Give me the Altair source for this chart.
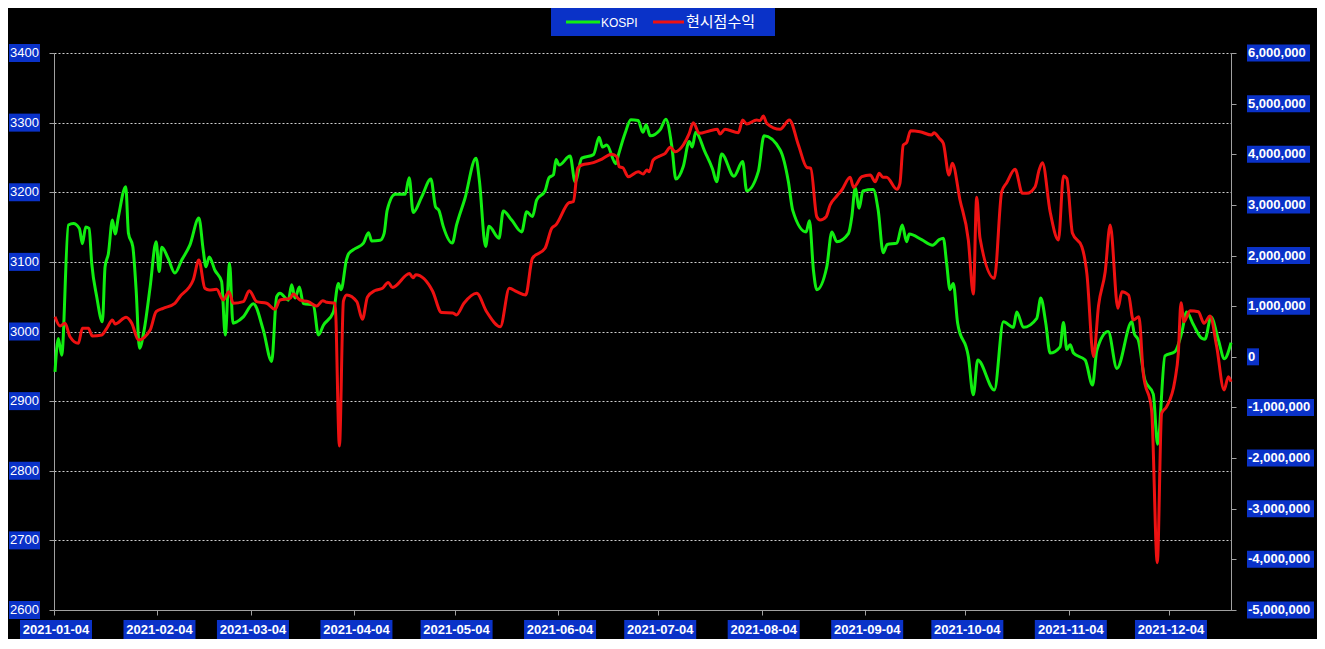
import altair as alt
import pandas as pd

# ---------------- data ----------------
# day offsets counted from 2021-01-04
kospi_day = [0.3, 1.3, 2.3, 4.3, 5.8, 7.6, 8.5, 9.5, 10.5, 11.3,
             12.8, 14.5, 15.3, 16.3, 17.5, 18.3, 19.3, 21.5, 22.3, 23.6,
             24.6, 25.6, 27.0, 28.8, 30.6, 31.5, 32.3, 34.2, 36.2, 38.3,
             40.7, 43.4, 44.7, 45.5, 46.5, 48.2, 50.2, 51.3, 52.6, 53.6,
             54.8, 56.7, 59.7, 62.7, 65.2, 66.7, 67.7, 70.2, 71.2, 72.2,
             73.5, 74.7, 77.7, 79.2, 80.7, 83.7, 85.2, 86.0, 87.6, 88.3,
             90.2, 92.7, 94.2, 95.2, 97.7, 98.9, 99.8, 102.2, 105.2, 106.4,
             107.6, 110.2, 112.9, 114.3, 115.3, 116.6, 119.3, 120.6, 123.1, 126.4,
             127.4, 129.3, 130.3, 133.3, 134.6, 137.1, 140.1, 141.6, 143.3, 144.6,
             147.1, 148.3, 149.6, 150.4, 151.3, 154.6, 156.1, 158.1, 161.6, 163.3,
             164.3, 165.6, 168.3, 169.1, 171.1, 172.8, 175.0, 176.4, 177.4, 178.6,
             181.6, 183.3, 185.1, 186.3, 188.5, 190.3, 191.2, 192.2, 195.0, 197.3,
             198.5, 200.0, 203.7, 206.3, 207.5, 211.0, 212.7, 217.5, 220.0, 221.3,
             225.3, 226.3, 227.5, 228.5, 231.5, 233.0, 234.5, 238.0, 239.0, 240.0,
             241.2, 242.3, 245.4, 246.9, 248.4, 249.6, 252.5, 254.1, 255.4, 256.2,
             259.9, 263.2, 265.2, 266.4, 267.4, 268.4, 269.4, 270.7, 273.9, 275.4,
             276.7, 281.7, 284.4, 287.4, 288.4, 290.4, 294.4, 295.6, 297.1, 298.4,
             301.4, 302.4, 303.4, 304.4, 305.4, 308.9, 311.1, 312.4, 315.8, 318.4,
             322.9, 323.6, 324.8, 326.8, 329.3, 330.6, 332.8, 335.8, 337.8, 339.3,
             341.3, 343.9, 344.8, 346.6, 348.8, 350.6, 352.6]
kospi_val = [2942, 2990, 2966, 3153, 3155, 3148, 3126, 3150, 3148, 3098,
             3050, 3014, 3093, 3112, 3160, 3140, 3165, 3208, 3141, 3122,
             3060, 2976, 3002, 3064, 3129, 3086, 3121, 3105, 3084, 3103,
             3124, 3163, 3117, 3093, 3107, 3088, 3072, 2995, 3098, 3012,
             3014, 3021, 3040, 3002, 2957, 3050, 3055, 3045, 3067, 3048,
             3064, 3040, 3038, 2995, 3009, 3028, 3069, 3060, 3103, 3112,
             3119, 3127, 3142, 3130, 3131, 3141, 3174, 3197, 3197, 3221,
             3171, 3194, 3219, 3179, 3174, 3151, 3127, 3153, 3191, 3249,
             3218, 3122, 3151, 3134, 3173, 3160, 3143, 3172, 3165, 3189,
             3202, 3221, 3225, 3247, 3239, 3252, 3215, 3249, 3254, 3279,
             3265, 3268, 3241, 3254, 3285, 3304, 3303, 3286, 3297, 3281,
             3290, 3305, 3265, 3219, 3237, 3273, 3265, 3286, 3258, 3233,
             3215, 3255, 3223, 3244, 3202, 3230, 3281, 3261, 3215, 3174,
             3143, 3159, 3088, 3060, 3093, 3143, 3129, 3141, 3165, 3206,
             3177, 3202, 3204, 3174, 3113, 3125, 3127, 3153, 3129, 3140,
             3132, 3124, 3132, 3134, 3098, 3060, 3069, 3012, 2964, 2909,
             2959, 2916, 3014, 3006, 3028, 3006, 3019, 3048, 3012, 2969,
             2978, 3013, 2974, 2981, 2969, 2959, 2923, 2973, 3000, 2947,
             3014, 2997, 2988, 2930, 2910, 2838, 2965, 2971, 2998, 3028,
             3010, 2990, 2989, 3021, 2988, 2961, 2984]

profit_day = [0.3, 1.8, 3.3, 4.8, 7.3, 8.5, 10.3, 11.5, 14.3, 15.8,
              17.5, 18.3, 21.6, 23.3, 25.3, 28.8, 30.6, 32.7, 36.2, 37.7,
              41.7, 43.4, 45.2, 46.5, 48.7, 50.7, 52.4, 53.7, 56.7, 58.5,
              60.7, 63.7, 66.2, 67.7, 70.7, 71.7, 73.7, 76.2, 78.7, 80.5,
              81.7, 84.2, 85.5, 86.7, 87.7, 90.7, 92.4, 93.9, 96.2, 98.4,
              100.1, 101.4, 106.5, 107.5, 108.4, 113.4, 116.1, 119.5, 120.5, 122.8,
              126.6, 129.6, 133.7, 136.4, 138.6, 141.3, 143.3, 147.1, 149.1, 150.3,
              154.3, 155.6, 156.9, 158.1, 161.6, 163.6, 167.1, 168.6, 169.3, 170.4,
              172.0, 175.0, 176.5, 177.6, 178.3, 179.5, 181.5, 183.1, 184.6, 186.1,
              188.5, 190.3, 191.5, 193.3, 196.5, 198.7, 199.5, 201.0, 205.0, 206.3,
              207.5, 210.5, 211.5, 212.5, 213.5, 217.5, 220.3, 223.0, 225.5, 226.7,
              228.5, 229.5, 231.3, 232.5, 234.5, 236.0, 238.5, 239.5, 242.0, 244.5,
              246.0, 247.2, 248.3, 249.4, 252.5, 253.4, 254.4, 255.4, 256.6, 259.4,
              262.9, 263.6, 265.2, 266.4, 268.1, 269.1, 271.4, 273.9, 275.4, 276.4,
              277.4, 281.7, 283.9, 285.4, 287.9, 290.1, 291.4, 293.9, 295.1, 296.1,
              298.4, 300.9, 302.4, 303.4, 305.1, 307.9, 309.4, 311.4, 312.9, 314.9,
              316.4, 318.7, 319.9, 321.9, 323.3, 325.0, 326.3, 328.8, 330.5, 331.8,
              333.3, 335.8, 336.8, 337.6, 338.5, 340.3, 342.8, 344.5, 346.3, 348.3,
              350.5, 351.8, 352.6]
profit_val = [792000, 609000, 662000, 397000, 267000, 563000, 563000, 411000, 431000, 563000,
              727000, 648000, 780000, 662000, 332000, 530000, 891000, 958000, 1057000, 1187000,
              1517000, 1912000, 1353000, 1320000, 1333000, 1122000, 1287000, 1057000, 1089000, 1306000,
              1089000, 1057000, 938000, 1122000, 1155000, 1240000, 1122000, 1089000, 1004000, 1109000,
              1076000, 1057000, -1761000, 1100000, 1221000, 1089000, 741000, 1180000, 1310000, 1353000,
              1470000, 1370000, 1645000, 1560000, 1620000, 1300000, 873000, 867000, 826000, 1057000,
              1254000, 891000, 595000, 1353000, 1287000, 1221000, 1945000, 2143000, 2538000, 2603000,
              3044000, 3063000, 3723000, 3788000, 3834000, 3887000, 4000000, 3952000, 3755000, 3735000,
              3557000, 3656000, 3610000, 3689000, 3656000, 3887000, 3966000, 4019000, 4138000, 4051000,
              4183000, 4414000, 4624000, 4414000, 4466000, 4493000, 4400000, 4493000, 4427000, 4677000,
              4598000, 4677000, 4664000, 4756000, 4611000, 4493000, 4677000, 4183000, 3742000, 3722000,
              2767000, 2702000, 2767000, 2998000, 3176000, 3294000, 3545000, 3348000, 3557000, 3591000,
              3458000, 3624000, 3545000, 3545000, 3308000, 3427000, 4183000, 4229000, 4466000, 4446000,
              4381000, 4427000, 4315000, 4217000, 3591000, 3822000, 3097000, 2307000, 1240000, 3150000,
              2340000, 1550000, 3261000, 3439000, 3703000, 3229000, 3229000, 3360000, 3689000, 3834000,
              2866000, 2307000, 3571000, 3525000, 2439000, 2175000, 1649000, 3000, 1010000, 1681000,
              2603000, 958000, 1287000, 1221000, 727000, 792000, -326000, -1050000, -4066000, -1116000,
              -985000, -458000, 70000, 1069000, 694000, 911000, 891000, 662000, 806000, 200000,
              -655000, -393000, -492000]

x_tick_labels = ["2021-01-04", "2021-02-04", "2021-03-04", "2021-04-04", "2021-05-04", "2021-06-04",
                 "2021-07-04", "2021-08-04", "2021-09-04", "2021-10-04", "2021-11-04", "2021-12-04"]
left_tick_values = [2600, 2700, 2800, 2900, 3000, 3100, 3200, 3300, 3400]
left_tick_labels = ["2600", "2700", "2800", "2900", "3000", "3100", "3200", "3300", "3400"]
right_tick_values = [-5000000, -4000000, -3000000, -2000000, -1000000, 0,
                     1000000, 2000000, 3000000, 4000000, 5000000, 6000000]
right_tick_labels = ["-5,000,000", "-4,000,000", "-3,000,000", "-2,000,000", "-1,000,000", "0",
                     "1,000,000", "2,000,000", "3,000,000", "4,000,000", "5,000,000", "6,000,000"]
series_names = ["KOSPI", "현시점수익"]

assert len(kospi_day) == len(kospi_val)
assert len(profit_day) == len(profit_val)

# ---------------- styling ----------------
BLUE = "#0a32c8"
GREEN = "#11ee11"
RED = "#ee1111"
AXIS = "#a0a0a0"
GRID = "#cfcfcf"
FONT = "Liberation Sans"
W, H = 1177, 557

start = pd.Timestamp(x_tick_labels[0])
kdf = pd.DataFrame({"date": start + pd.to_timedelta(kospi_day, unit="D"),
                    "kospi": kospi_val, "series": series_names[0]})
pdf = pd.DataFrame({"date": start + pd.to_timedelta(profit_day, unit="D"),
                    "profit": profit_val, "series": series_names[1]})


def dt(s, hours=0):
    y, m, d = (int(p) for p in s.split("-"))
    return alt.DateTime(year=y, month=m, date=d, hours=hours)


x_scale = alt.Scale(domain=[dt(x_tick_labels[0]), dt("2021-12-22", hours=14)], nice=False)
x_axis = alt.Axis(values=[dt(s) for s in x_tick_labels], labels=False, title=None, grid=False,
                  tickSize=5, tickColor=AXIS, domainColor=AXIS)
X = alt.X("date:T", scale=x_scale, axis=x_axis)

YL = alt.Y("kospi:Q", scale=alt.Scale(domain=[2600, 3400], nice=False, zero=False),
           axis=alt.Axis(values=left_tick_values, labels=False, title=None, grid=True,
                         gridColor=GRID, gridDash=[2, 2], gridWidth=1, tickSize=5,
                         tickColor=AXIS, domainColor=AXIS))
YR = alt.Y("profit:Q", scale=alt.Scale(domain=[-5000000, 6000000], nice=False, zero=False),
           axis=alt.Axis(orient="right", values=right_tick_values, labels=False, title=None,
                         grid=False, tickSize=5, tickColor=AXIS, domainColor=AXIS))

color = alt.Color("series:N", scale=alt.Scale(domain=series_names, range=[GREEN, RED]), legend=None)

green = alt.Chart(kdf).mark_line(strokeWidth=3, interpolate="monotone").encode(x=X, y=YL, color=color)
red = alt.Chart(pdf).mark_line(strokeWidth=3, interpolate="monotone").encode(x=X, y=YR, color=color)


# text width estimate (bold sans 13px) for label boxes
def text_w(s):
    w = 0.0
    for ch in s:
        if ch.isdigit():
            w += 7.23
        elif ch == ",":
            w += 3.61
        else:
            w += 4.33
    return w


# left labels
ldf = pd.DataFrame({"kospi": left_tick_values, "label": left_tick_labels})
left_rect = alt.Chart(ldf).mark_rect(color=BLUE, yOffset=-9, y2Offset=9).encode(
    x=alt.value(-45), x2=alt.value(-14), y=YL, y2=alt.Y2("kospi"))
left_text = alt.Chart(ldf).mark_text(align="right", baseline="middle", color="white",
                                     font=FONT, fontSize=13).encode(
    x=alt.value(-15), y=YL, text="label:N")

# bottom labels
xdf = pd.DataFrame({"date": pd.to_datetime(x_tick_labels), "label": x_tick_labels})
x_rect = alt.Chart(xdf).mark_rect(color=BLUE, xOffset=-34, x2Offset=38).encode(
    x=X, x2=alt.X2("date"), y=alt.value(H + 10), y2=alt.value(H + 29))
x_text = alt.Chart(xdf).mark_text(align="center", baseline="middle", color="white", font=FONT,
                                  fontSize=13, fontWeight="bold", dx=2).encode(
    x=X, y=alt.value(H + 19.5), text="label:N")

# right labels
rdf = pd.DataFrame({"profit": right_tick_values, "label": right_tick_labels})
rdf["w"] = [round(text_w(s) + 5) for s in right_tick_labels]
right_rects = []
for w, sub in rdf.groupby("w"):
    right_rects.append(
        alt.Chart(sub).mark_rect(color=BLUE, yOffset=-8.5, y2Offset=8.5).encode(
            x=alt.value(W + 16), x2=alt.value(W + 16 + int(w)), y=YR, y2=alt.Y2("profit")))
right_text = alt.Chart(rdf).mark_text(align="left", baseline="middle", color="white", font=FONT,
                                      fontSize=13, fontWeight="bold").encode(
    x=alt.value(W + 17), y=YR, text="label:N")

# legend (drawn by hand: blue box, two line samples, two labels)
one = pd.DataFrame({"k": [0]})
leg_box = alt.Chart(one).mark_rect(color=BLUE).encode(
    x=alt.value(497), x2=alt.value(721), y=alt.value(-45), y2=alt.value(-17))
leg_green = alt.Chart(one).mark_rule(color=GREEN, strokeWidth=3).encode(
    x=alt.value(512), x2=alt.value(546), y=alt.value(-31))
leg_red = alt.Chart(one).mark_rule(color=RED, strokeWidth=3).encode(
    x=alt.value(599), x2=alt.value(630), y=alt.value(-31))
leg_t1 = alt.Chart(one).mark_text(align="left", baseline="middle", color="white",
                                  font=FONT, fontSize=12, text=series_names[0]).encode(
    x=alt.value(547), y=alt.value(-30.5))
leg_t2 = alt.Chart(one).mark_text(align="left", baseline="middle", color="white",
                                  font="Noto Sans CJK KR", fontSize=15, text=series_names[1]).encode(
    x=alt.value(632), y=alt.value(-31.5))

left_group = alt.layer(green, left_rect, left_text, x_rect, x_text)
right_group = alt.layer(red, *right_rects, right_text)
legend_group = alt.layer(leg_box, leg_green, leg_red, leg_t1, leg_t2)

chart = alt.layer(left_group, right_group, legend_group).resolve_scale(y="independent").properties(
    width=W, height=H,
    autosize=alt.AutoSizeParams(type="none"),
    padding={"left": 46, "top": 45, "right": 86, "bottom": 29},
    background="black",
).configure_view(strokeWidth=0)

chart.save("out.html", embed_options={"renderer": "svg", "actions": False})
